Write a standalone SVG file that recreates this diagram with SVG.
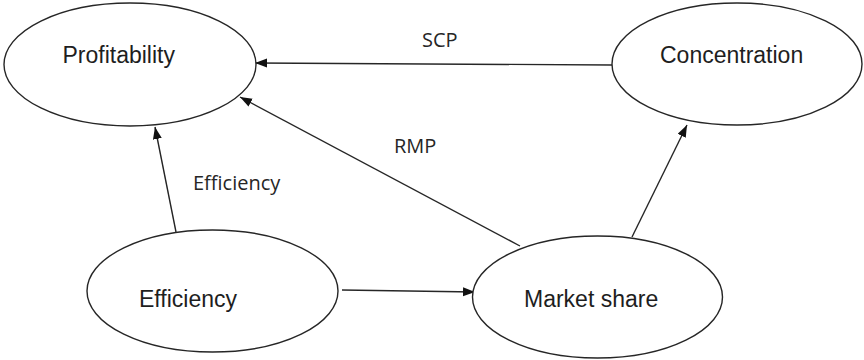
<svg xmlns="http://www.w3.org/2000/svg" width="864" height="360" viewBox="0 0 864 360">
  <style>
    .node ellipse { fill: #ffffff; stroke: #262626; stroke-width: 1.4; }
    .node text { font-family: "Liberation Sans", Arial, sans-serif; font-size: 23px; fill: #1e1e1e; }
    .edge line { stroke: #262626; stroke-width: 1.4; marker-end: url(#arrow); }
    .label { font-family: "Open Sans", "Liberation Sans", sans-serif; font-size: 20px; fill: #262626; }
  </style>
  <defs>
    <marker id="arrow" markerUnits="userSpaceOnUse" markerWidth="13" markerHeight="10" refX="12" refY="4.5" orient="auto">
      <path d="M0,0 L12,4.5 L0,9 z" fill="#111111"/>
    </marker>
  </defs>
  <rect width="864" height="360" fill="#ffffff"/>

  <g id="connectors" class="edge">
    <!-- Concentration -> Profitability (SCP) -->
    <line x1="612" y1="65" x2="255" y2="63"/>
    <!-- Market share -> Profitability (RMP) -->
    <line x1="520" y1="246" x2="240" y2="97"/>
    <!-- Efficiency -> Profitability -->
    <line x1="176" y1="232" x2="155" y2="127"/>
    <!-- Efficiency -> Market share -->
    <line x1="342" y1="290" x2="475" y2="292"/>
    <!-- Market share -> Concentration -->
    <line x1="632" y1="237" x2="687" y2="125"/>
  </g>

  <g id="edge-labels">
    <text class="label" x="422" y="47">SCP</text>
    <text class="label" x="394" y="153">RMP</text>
    <text class="label" x="193" y="190">Efficiency</text>
  </g>

  <g id="profitability" class="node">
    <ellipse cx="130" cy="64.5" rx="126" ry="61.5"/>
    <text x="62.5" y="63">Profitability</text>
  </g>
  <g id="concentration" class="node">
    <ellipse cx="737" cy="64" rx="125" ry="61"/>
    <text x="660" y="63">Concentration</text>
  </g>
  <g id="efficiency" class="node">
    <ellipse cx="212.5" cy="291" rx="125.5" ry="61"/>
    <text x="139" y="307">Efficiency</text>
  </g>
  <g id="market-share" class="node">
    <ellipse cx="597.5" cy="297" rx="125" ry="61"/>
    <text x="524" y="307">Market share</text>
  </g>
</svg>
